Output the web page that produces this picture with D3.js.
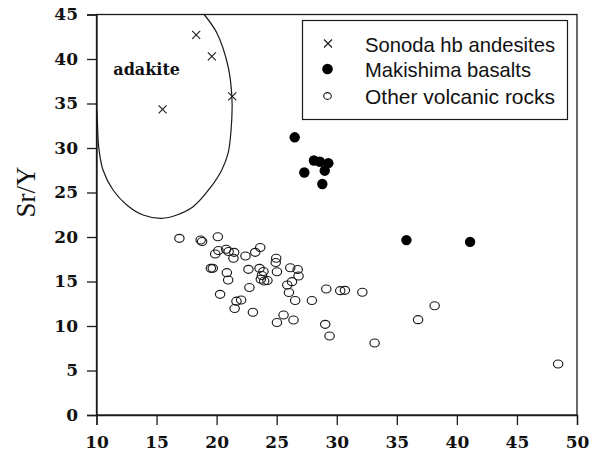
<!DOCTYPE html>
<html>
<head>
<meta charset="utf-8">
<script src="https://cdn.jsdelivr.net/npm/d3@7"></script>
<style>
html,body{margin:0;padding:0;background:#fff;}
svg{display:block;}
</style>
</head>
<body>
<svg id="chart" width="595" height="458"></svg>
<script>
// ---- data ----
const seriesNames = ["Sonoda hb andesites", "Makishima basalts", "Other volcanic rocks"];
const sonodaX = [15.5, 18.3, 19.6, 21.3];
const sonodaY = [34.35, 42.7, 40.3, 35.8];
const makishimaX = [26.5, 28.1, 28.6, 29.3, 29.0, 27.3, 28.8, 35.8, 41.1];
const makishimaY = [31.2, 28.6, 28.45, 28.3, 27.45, 27.25, 25.95, 19.65, 19.45];
const otherX = [16.9, 18.67, 18.79, 20.1, 19.88, 20.15, 20.79, 21.0, 21.46, 21.4, 22.4, 23.21, 23.63, 24.96, 24.92, 25.02,
  19.52, 19.68, 20.85, 20.96, 22.65, 23.57, 23.9, 23.77, 23.68, 23.96, 24.23, 26.13, 26.75, 26.82, 26.27, 25.88, 26.02,
  26.54, 27.93, 29.13, 30.29, 30.68, 20.29, 22.73, 21.65, 22.04, 21.5, 23.02, 25.57, 25.02, 26.4, 29.04, 29.4, 32.13,
  38.15, 36.77, 33.15, 48.43];
const otherY = [19.85, 19.66, 19.49, 20.03, 18.09, 18.48, 18.62, 18.37, 18.28, 17.61, 17.87, 18.28, 18.82, 17.61, 17.13, 16.1,
  16.48, 16.48, 15.99, 15.17, 16.37, 16.48, 16.12, 15.67, 15.25, 15.06, 15.11, 16.55, 16.35, 15.62, 14.98, 14.61, 13.76,
  12.87, 12.87, 14.16, 13.97, 14.01, 13.56, 14.33, 12.79, 12.92, 11.97, 11.54, 11.24, 10.39, 10.67, 10.19, 8.88, 13.79,
  12.28, 10.71, 8.09, 5.73];
const adakiteX = [18.96, 20.02, 20.96, 21.27, 21.27, 20.96, 20.43, 19.46, 18.04, 16.68, 15.43, 13.88, 12.52, 11.38, 10.54, 10.18, 10.07, 10.02];
const adakiteY = [45.0, 42.92, 39.13, 35.76, 33.48, 29.44, 27.53, 25.51, 23.4, 22.47, 22.1, 22.47, 23.6, 25.28, 27.53, 30.15, 33.15, 34.27];
const xTicks = [10, 15, 20, 25, 30, 35, 40, 45, 50];
const yTicks = [0, 5, 10, 15, 20, 25, 30, 35, 40, 45];
const yLabel = "Sr/Y";
const regionLabel = "adakite";

// ---- layout ----
const L = 96.5, R = 577, T = 14.5, B = 415;
const svg = d3.select("#chart");
const x = d3.scaleLinear().domain([10, 50]).range([L, R]);
const y = d3.scaleLinear().domain([0, 45]).range([B, T]);
const ink = "#1a1a1a";

// frame
svg.append("rect").attr("x", L).attr("y", T).attr("width", R - L).attr("height", B - T)
  .attr("fill", "none").attr("stroke", ink).attr("stroke-width", 1.3);

// axes
const xAxis = svg.append("g").attr("transform", `translate(0,${B})`)
  .call(d3.axisBottom(x).tickValues(xTicks).tickSize(10).tickPadding(11).tickFormat(d3.format("d")));
const yAxis = svg.append("g").attr("transform", `translate(${L},0)`)
  .call(d3.axisLeft(y).tickValues(yTicks).tickSize(9.5).tickPadding(9).tickFormat(d3.format("d")));
[xAxis, yAxis].forEach(g => {
  g.attr("font-family", null).attr("font-size", null);
  g.select(".domain").attr("stroke", ink).attr("stroke-width", 1.3);
  g.selectAll(".tick line").attr("stroke", ink).attr("stroke-width", 1.3);
  g.selectAll(".tick text").attr("fill", "#111")
    .style("font-family", "'DejaVu Serif', serif").style("font-weight", "bold").style("font-size", "17px");
});
xAxis.selectAll(".tick text").attr("dy", "0.71em");

// y label
svg.append("text").attr("transform", `translate(35,${192}) rotate(-90)`)
  .attr("text-anchor", "middle").style("font-family", "'Liberation Serif', serif")
  .style("font-size", "27px").attr("fill", "#111").text(yLabel);

// adakite field
const curve = d3.line().x(d => x(d[0])).y(d => y(d[1])).curve(d3.curveCatmullRom.alpha(0.5));
svg.append("path").datum(adakiteX.map((v, i) => [v, adakiteY[i]]))
  .attr("d", curve).attr("fill", "none").attr("stroke", ink).attr("stroke-width", 1.2);
svg.append("text").attr("x", x(11.4)).attr("y", y(38.2))
  .style("font-family", "'DejaVu Serif', serif").style("font-weight", "bold").style("font-size", "16px")
  .attr("fill", "#111").text(regionLabel);

// other volcanic rocks (open)
svg.append("g").selectAll("ellipse").data(otherX.map((v, i) => [v, otherY[i]])).join("ellipse")
  .attr("cx", d => x(d[0])).attr("cy", d => y(d[1])).attr("rx", 4.7).attr("ry", 4.0)
  .attr("fill", "none").attr("stroke", ink).attr("stroke-width", 1.15);

// makishima (filled)
svg.append("g").selectAll("circle").data(makishimaX.map((v, i) => [v, makishimaY[i]])).join("circle")
  .attr("cx", d => x(d[0])).attr("cy", d => y(d[1])).attr("r", 5.2).attr("fill", "#000");

// sonoda (cross)
const crossPath = s => `M${-s},${-s}L${s},${s}M${-s},${s}L${s},${-s}`;
svg.append("g").selectAll("path").data(sonodaX.map((v, i) => [v, sonodaY[i]])).join("path")
  .attr("transform", d => `translate(${x(d[0])},${y(d[1])})`).attr("d", crossPath(4))
  .attr("stroke", ink).attr("stroke-width", 1.1).attr("fill", "none");

// legend
const lg = svg.append("g");
lg.append("rect").attr("x", 302.5).attr("y", 20.5).attr("width", 265).attr("height", 99)
  .attr("fill", "#fff").attr("stroke", ink).attr("stroke-width", 1.2);
const rowsY = [43.5, 69, 96];
const textW = [190, 166, 190];
seriesNames.forEach((name, i) => {
  const cy = rowsY[i];
  if (i === 0) lg.append("path").attr("transform", `translate(328,${cy})`).attr("d", crossPath(4))
    .attr("stroke", ink).attr("stroke-width", 1.1);
  if (i === 1) lg.append("circle").attr("cx", 327.5).attr("cy", cy).attr("r", 5.3).attr("fill", "#000");
  if (i === 2) lg.append("ellipse").attr("cx", 327.5).attr("cy", cy).attr("rx", 3.8).attr("ry", 3.4)
    .attr("fill", "none").attr("stroke", ink).attr("stroke-width", 1.1);
  lg.append("text").attr("x", 365).attr("y", cy + 8)
    .style("font-family", "'Liberation Sans', Arial, sans-serif").style("font-size", "21px")
    .attr("textLength", textW[i]).attr("lengthAdjust", "spacingAndGlyphs")
    .attr("fill", "#111").text(name);
});
</script>
</body>
</html>
